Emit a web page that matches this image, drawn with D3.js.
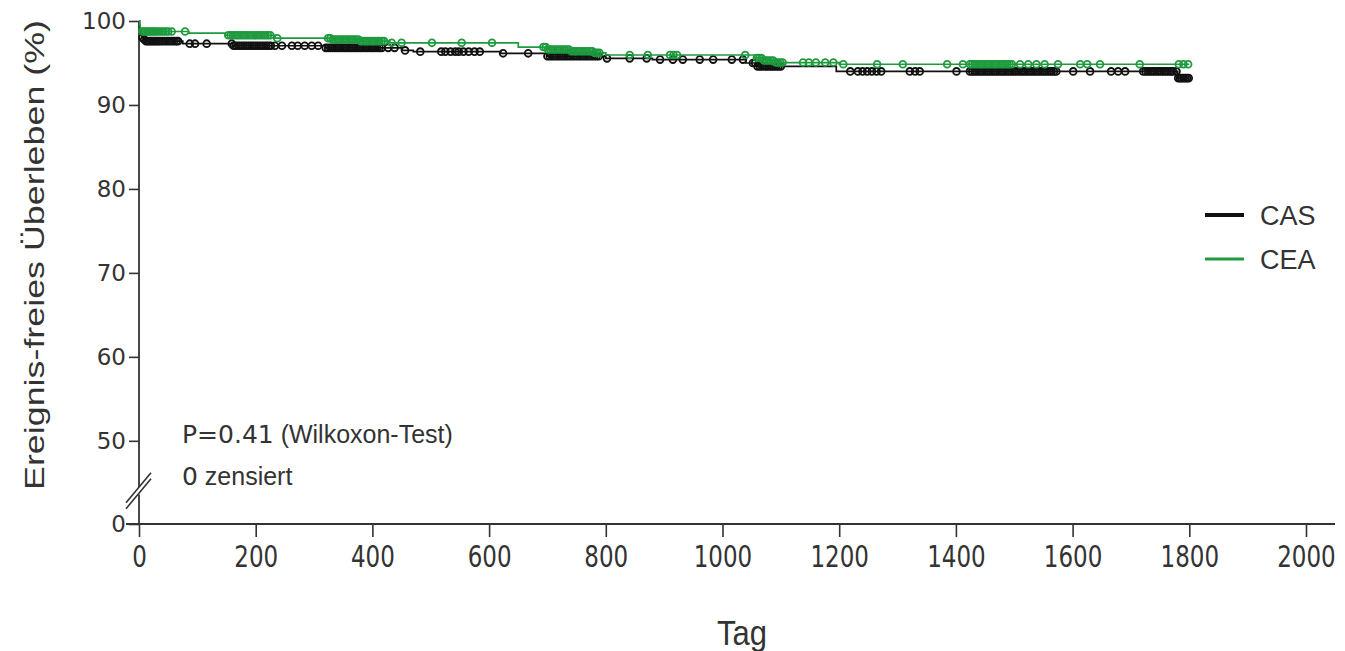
<!DOCTYPE html>
<html>
<head>
<meta charset="utf-8">
<script src="https://cdn.jsdelivr.net/npm/d3@7"></script>
<style>
  body { margin: 0; background: #fff; }
  text { font-family: "Liberation Sans", Arial, sans-serif; fill: #333; }
  .num { font-family: "DejaVu Sans", sans-serif; }
</style>
</head>
<body>
<svg width="1345" height="651"></svg>
<script>
// Kaplan-Meier steps (day, event-free survival %)
const casDays = [0, 1, 2, 3, 5, 8, 12, 75, 160, 320, 450, 470, 620, 700, 800, 880, 1040, 1060, 1195, 1780, 1800];
const casSurv = [100, 99.3, 98.8, 98.4, 98.0, 97.8, 97.6, 97.3, 97.05, 96.8, 96.5, 96.35, 96.15, 95.8, 95.55, 95.4, 95.0, 94.6, 94.0, 93.2, 93.2];

const ceaDays = [0, 1, 2, 4, 6, 85, 148, 233, 330, 380, 430, 650, 700, 740, 780, 800, 1055, 1070, 1090, 1200, 1800];
const ceaSurv = [100, 99.5, 99.1, 98.9, 98.75, 98.55, 98.3, 97.95, 97.8, 97.6, 97.4, 96.9, 96.6, 96.4, 96.2, 95.95, 95.6, 95.3, 95.05, 94.85, 94.85];

// censored observations (days)
const casCensored = [
  6, 9, 12, 15, 18, 21, 24, 27, 30, 33, 36, 40, 44, 48, 52, 56, 60, 64, 67,
  87, 96, 116, 159,
  162, 166, 170, 174, 178, 182, 186, 190, 194, 198, 202, 206, 210, 214, 218, 222, 226,
  233, 245, 262, 272, 284, 296, 307,
  320, 324, 328, 332, 336, 340, 344, 348, 352, 356, 360, 364, 368, 372, 376, 380, 384, 388, 392, 396, 400, 404, 408, 412, 416,
  427, 438, 456, 482, 518, 525, 534, 542, 548, 556, 565, 575, 584, 624, 667,
  700, 704, 708, 712, 716, 720, 724, 728, 732, 736, 740, 744, 748, 752, 756, 760, 764, 768, 772, 776, 780, 784, 788,
  802, 841, 870, 893, 915, 932, 961, 984, 1016, 1035,
  1052, 1056, 1060, 1064, 1068, 1072, 1076, 1080, 1084, 1088, 1092, 1096, 1100,
  1219, 1232, 1240, 1248, 1256, 1264, 1272, 1321, 1330, 1338, 1401,
  1424, 1428, 1432, 1436, 1440, 1444, 1448, 1452, 1456, 1460, 1464, 1468, 1472, 1476, 1480, 1484, 1488, 1492, 1496,
  1500, 1504, 1508, 1512, 1516, 1520, 1524, 1528, 1532, 1536, 1540, 1544, 1548, 1552, 1556, 1560, 1564, 1568, 1572,
  1601, 1630, 1666, 1678, 1690,
  1721, 1725, 1729, 1733, 1737, 1741, 1745, 1749, 1753, 1757, 1761, 1765, 1769, 1772,
  1778, 1781, 1784, 1787, 1790, 1793, 1796, 1799
];
const ceaCensored = [
  6, 9, 12, 15, 18, 21, 24, 27, 30, 34, 38, 42, 46, 50, 56, 79,
  153, 157, 161, 165, 169, 173, 177, 181, 185, 189, 193, 197, 201, 205, 209, 213, 217, 221, 225,
  237,
  324, 328, 332, 336, 340, 344, 348, 352, 356, 360, 364, 368, 372, 376, 380, 384, 388, 392, 396, 400, 404, 408, 412, 416, 420,
  433, 450, 502, 553, 605,
  693, 697, 701, 705, 709, 713, 717, 721, 725, 729, 733, 737, 741, 745, 749, 753, 757, 761, 765, 769, 773, 777, 781, 785, 789,
  841, 872, 910, 916, 922, 1039,
  1059, 1063, 1067, 1071, 1075, 1079, 1083, 1087, 1091, 1095, 1099, 1103,
  1138, 1148, 1160, 1176, 1190, 1207, 1265, 1309, 1385, 1412,
  1424, 1428, 1432, 1436, 1440, 1444, 1448, 1452, 1456, 1460, 1464, 1468, 1472, 1476, 1480, 1484, 1488, 1492, 1496,
  1510, 1524, 1538, 1552, 1575, 1613, 1625, 1647, 1715, 1782, 1790, 1798
];

const xTicks = [0, 200, 400, 600, 800, 1000, 1200, 1400, 1600, 1800, 2000];
const yTicksUpper = [50, 60, 70, 80, 90, 100];
const yTicksLower = [0];

const groups = ['CAS', 'CEA'];
const colors = ['#111111', '#1f9a3f'];

const svg = d3.select('svg');

const x = d3.scaleLinear().domain([0, 2000]).range([139, 1306]);
// broken y axis: upper part 44.5..100, lower part 0..3.5
const yUp = d3.scaleLinear().domain([44.5, 100]).range([487, 21]);
const yLow = d3.scaleLinear().domain([0, 3.5]).range([524, 494.6]);

const axisColor = '#333';

// x axis
const gx = svg.append('g')
    .attr('transform', 'translate(0,524)')
    .call(d3.axisBottom(x).tickValues(xTicks).tickSize(13).tickFormat(d3.format('d')));
gx.select('.domain').remove();
gx.selectAll('line').attr('stroke', axisColor).attr('stroke-width', 1.6);
gx.selectAll('text')
    .attr('class', 'num')
    .attr('y', 0)
    .attr('dy', 0)
    .attr('transform', 'translate(0,43) scale(1,1.3)')
    .style('font-size', '23px')
    .attr('fill', '#333');
svg.append('line')
    .attr('x1', 126).attr('x2', 1335)
    .attr('y1', 524).attr('y2', 524)
    .attr('stroke', axisColor).attr('stroke-width', 1.8);

// y axis (upper and lower)
const gyU = svg.append('g')
    .attr('transform', 'translate(139,0)')
    .call(d3.axisLeft(yUp).tickValues(yTicksUpper).tickSize(10).tickPadding(3).tickFormat(d3.format('d')));
const gyL = svg.append('g')
    .attr('transform', 'translate(139,0)')
    .call(d3.axisLeft(yLow).tickValues(yTicksLower).tickSize(10).tickPadding(3).tickFormat(d3.format('d')));
[gyU, gyL].forEach(g => {
  g.select('.domain').remove();
  g.selectAll('line').attr('stroke', axisColor).attr('stroke-width', 1.6);
  g.selectAll('text')
      .attr('class', 'num')
      .style('font-size', '23px')
      .attr('fill', '#333');
});
svg.append('line')
    .attr('x1', 139).attr('x2', 139)
    .attr('y1', yUp.range()[1]).attr('y2', yUp.range()[0])
    .attr('stroke', axisColor).attr('stroke-width', 1.8);
svg.append('line')
    .attr('x1', 139).attr('x2', 139)
    .attr('y1', yLow.range()[1]).attr('y2', yLow.range()[0])
    .attr('stroke', axisColor).attr('stroke-width', 1.8);

// break marks
const breakY = (yUp.range()[0] + yLow.range()[1]) / 2;
[-3, 3].forEach(off => {
  svg.append('line')
      .attr('x1', 126).attr('y1', breakY + off + 15)
      .attr('x2', 151).attr('y2', breakY + off - 15)
      .attr('stroke', axisColor).attr('stroke-width', 1.6);
});

// curves
const line = d3.line()
    .x(d => x(d[0]))
    .y(d => yUp(d[1]))
    .curve(d3.curveStepAfter);

const series = [
  { days: casDays, surv: casSurv, cens: casCensored },
  { days: ceaDays, surv: ceaSurv, cens: ceaCensored }
];

const bis = d3.bisector(d => d).right;

series.forEach((s, i) => {
  const pts = s.days.map((d, k) => [d, s.surv[k]]);
  svg.append('path')
      .attr('d', line(pts))
      .attr('fill', 'none')
      .attr('stroke', colors[i])
      .attr('stroke-width', 1.7);

  const survAt = day => s.surv[Math.max(0, bis(s.days, day) - 1)];
  svg.append('g')
    .selectAll('circle')
    .data(s.cens)
    .join('circle')
      .attr('cx', d => x(d))
      .attr('cy', d => yUp(survAt(d)))
      .attr('r', 3.4)
      .attr('fill', 'none')
      .attr('stroke', colors[i])
      .attr('stroke-width', 1.8);
});

// legend
const legend = svg.append('g');
groups.forEach((name, i) => {
  const ly = 215 + i * 44;
  legend.append('line')
      .attr('x1', 1205).attr('x2', 1244)
      .attr('y1', ly).attr('y2', ly)
      .attr('stroke', colors[i])
      .attr('stroke-width', i === 0 ? 4 : 3);
  legend.append('text')
      .attr('x', 1260).attr('y', ly + 10)
      .style('font-size', '27px')
      .text(name);
});

// annotation
const note = svg.append('text')
    .attr('x', 182).attr('y', 443)
    .style('font-size', '25px');
note.append('tspan').attr('class', 'num').text('P=0.41');
note.append('tspan').text(' (Wilkoxon-Test)');

const note2 = svg.append('text')
    .attr('x', 182).attr('y', 485)
    .style('font-size', '25px');
note2.append('tspan').attr('class', 'num').text('0');
note2.append('tspan').text(' zensiert');

// axis titles
svg.append('text')
    .attr('transform', 'translate(44,255) rotate(-90)')
    .attr('text-anchor', 'middle')
    .attr('textLength', 470)
    .attr('lengthAdjust', 'spacingAndGlyphs')
    .style('font-size', '28px')
    .text('Ereignis-freies Überleben (%)');

svg.append('text')
    .attr('transform', 'translate(742,645) scale(1,1.15)')
    .attr('text-anchor', 'middle')
    .style('font-size', '31px')
    .text('Tag');
</script>
</body>
</html>
